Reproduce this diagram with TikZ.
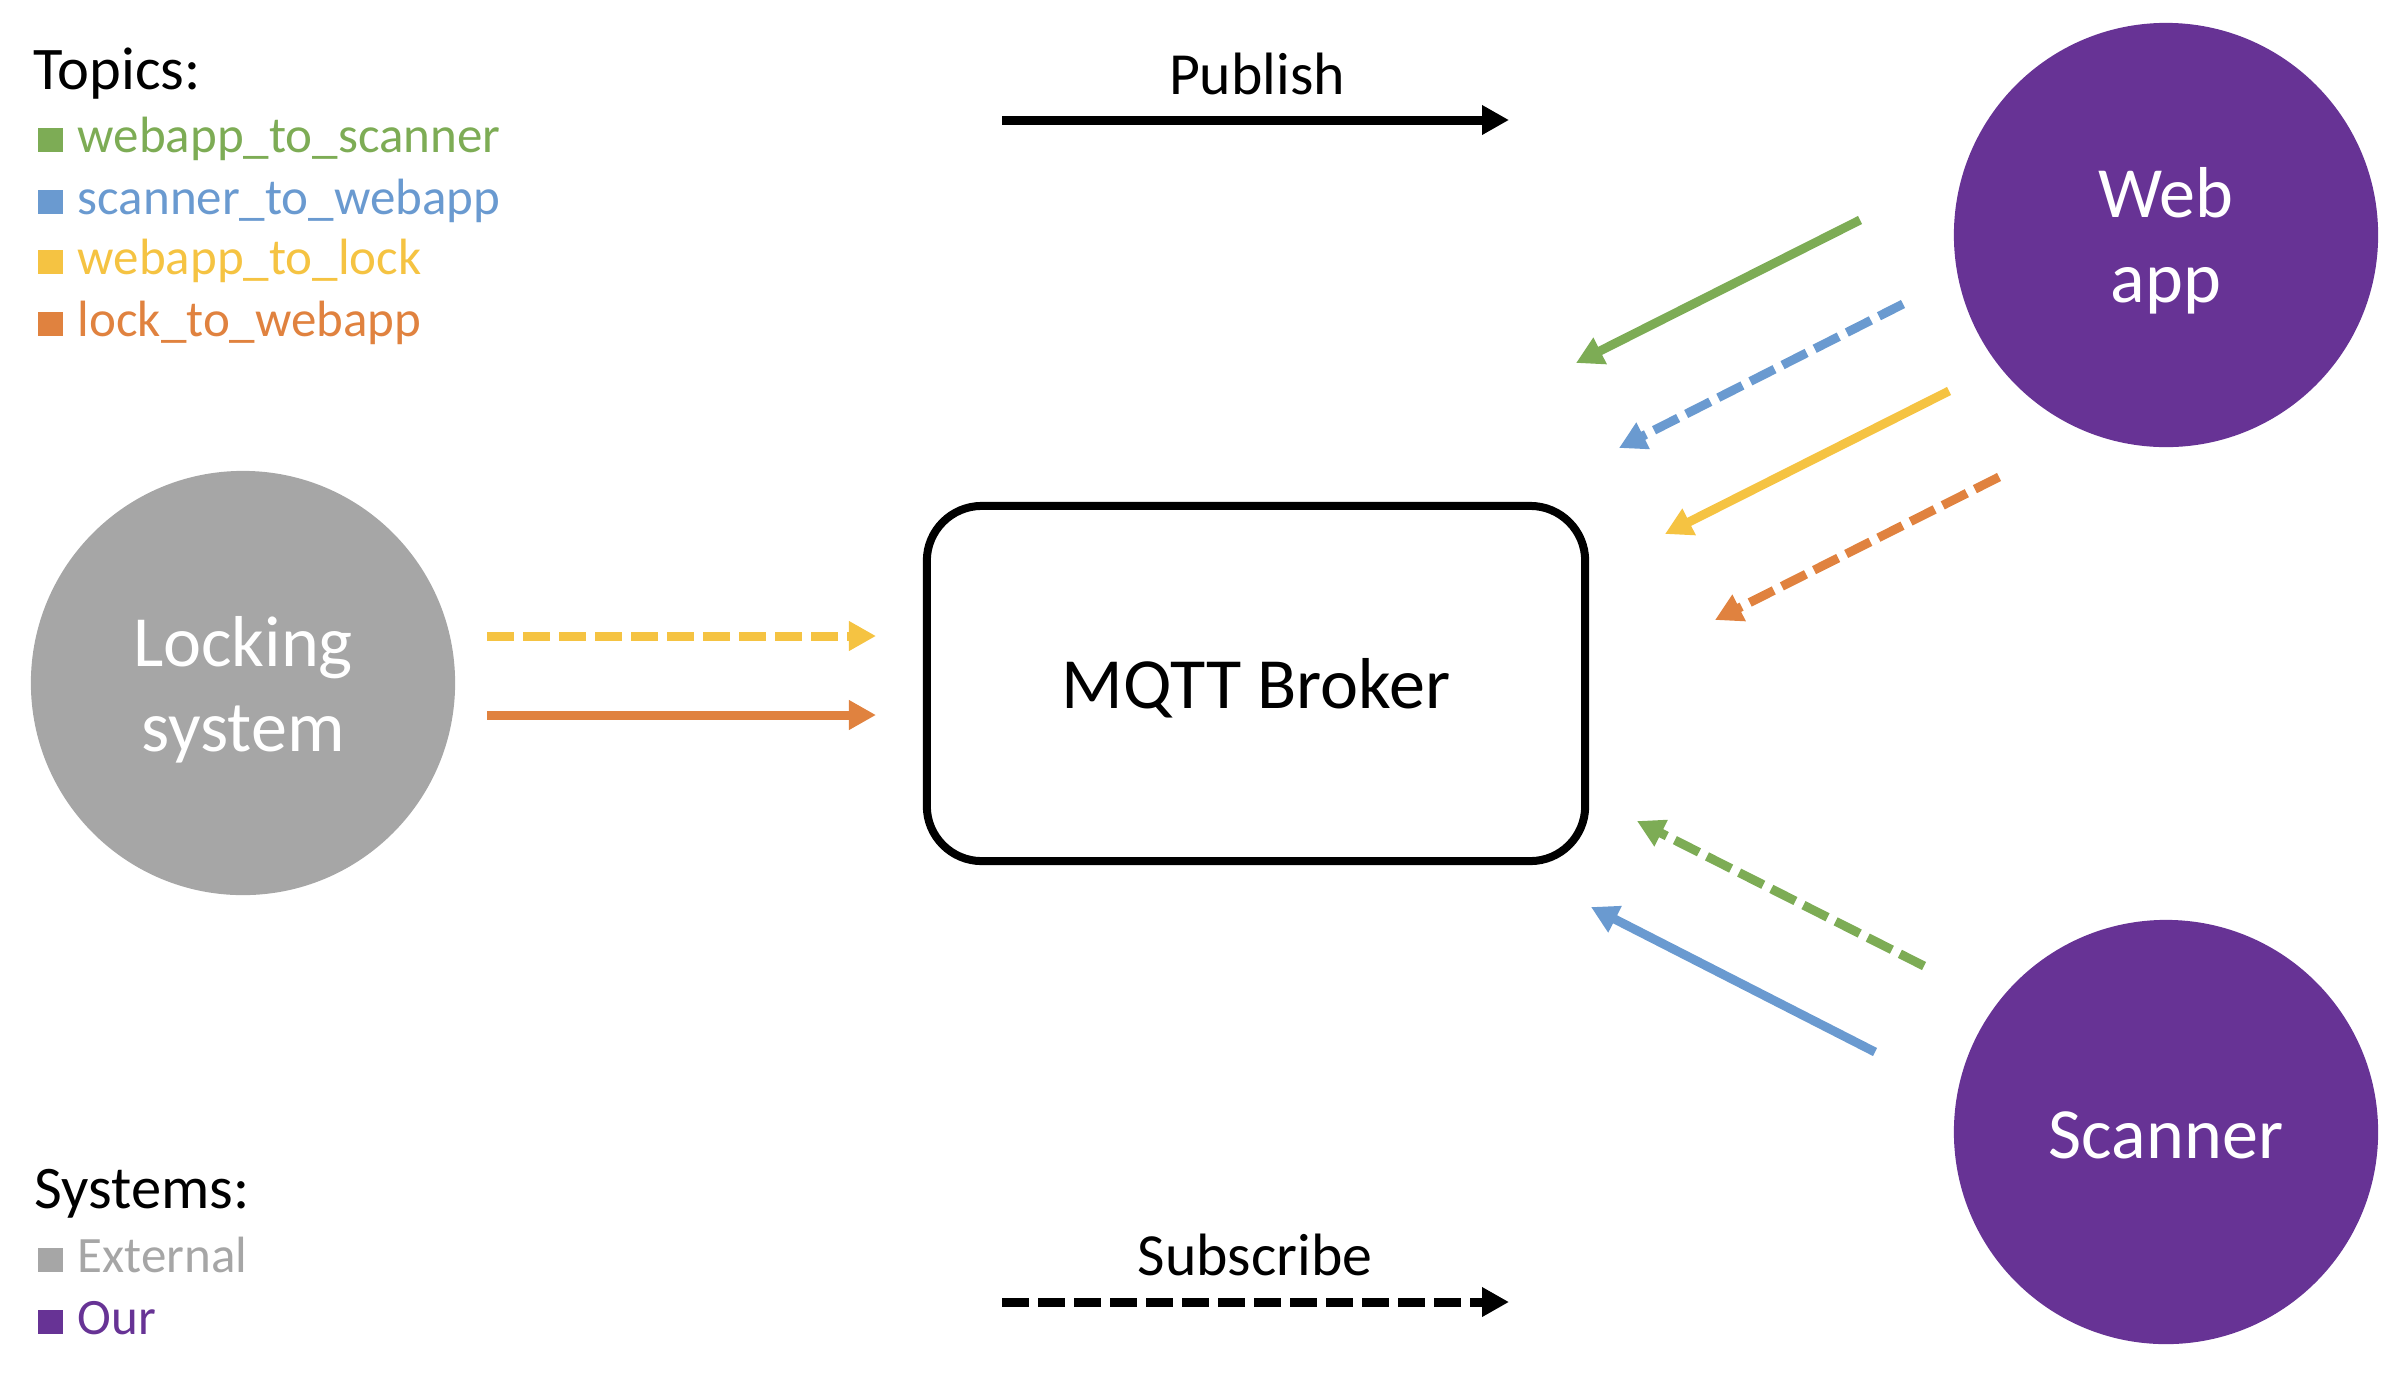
\documentclass[tikz,border=0pt]{standalone}
\usepackage{fontspec}
\setmainfont{Carlito}
\usetikzlibrary{arrows.meta}
\definecolor{cgreen}{HTML}{7DAC55}
\definecolor{cblue}{HTML}{6A9AD0}
\definecolor{cyellow}{HTML}{F5C342}
\definecolor{corange}{HTML}{E0823F}
\definecolor{cpurple}{HTML}{673395}
\definecolor{cgray}{HTML}{A6A6A6}
\tikzset{
  conn/.style={line width=0.09cm, -{Triangle[length=0.27cm,width=0.28cm]}},
  dashedconn/.style={conn, dash pattern=on 0.27cm off 0.09cm},
  systemcircle/.style={circle, minimum size=4.24cm, inner sep=0pt},
  bigtext/.style={inner sep=0pt, align=center, font=\fontsize{20.5}{24.3}\selectfont},
  legendtitle/.style={anchor=base west, inner sep=0pt, font=\fontsize{17.2}{19}\selectfont},
  legenditem/.style={anchor=base west, inner sep=0pt, font=\fontsize{14.5}{17}\selectfont},
  keylabel/.style={anchor=base, inner sep=0pt, font=\fontsize{17.0}{19}\selectfont},
}
\newcommand{\legsq}[1]{{\color{#1}\rule{0.25cm}{0.24cm}}\hspace{0.15cm}}
\begin{document}
\begin{tikzpicture}[x=0.01cm, y=-0.01cm]
\useasboundingbox (0,0) rectangle (2406,1372);

% legend
\node[legendtitle] (topics) at (33,89) {Topics:};
\node[legenditem, text=cgreen] (t1) at (37,152) {\legsq{cgreen}webapp\_to\_scanner};
\node[legenditem, text=cblue] (t2) at (37,214) {\legsq{cblue}scanner\_to\_webapp};
\node[legenditem, text=cyellow] (t3) at (37,274) {\legsq{cyellow}webapp\_to\_lock};
\node[legenditem, text=corange] (t4) at (37,336) {\legsq{corange}lock\_to\_webapp};

\node[legendtitle] (systems) at (34,1208) {Systems:};
\node[legenditem, text=cgray] (s1) at (37,1272) {\legsq{cgray}External};
\node[legenditem, text=cpurple] (s2) at (37,1334) {\legsq{cpurple}Our};

% key arrows
\node[keylabel] (publbl) at (1257,94) {Publish};
\coordinate (pubA) at (1002,120);
\coordinate (pubB) at (1509,120);
\draw[conn, black] (pubA) -- (pubB);

\node[keylabel] (sublbl) at (1255,1275) {Subscribe};
\coordinate (subA) at (1002,1302);
\coordinate (subB) at (1509,1302);
\draw[dashedconn, black] (subA) -- (subB);

% systems
\node[systemcircle, fill=cgray] (lock) at (243,683) {};
\node[bigtext, text=white] (locktxt) at (243,690) {Locking\\system};
\node[systemcircle, fill=cpurple] (web) at (2166,235) {};
\node[bigtext, text=white] (webtxt) at (2166,241) {Web\\app};
\node[systemcircle, fill=cpurple] (scan) at (2166,1132) {};
\node[bigtext, text=white] (scantxt) at (2166,1135) {Scanner};

\node[draw, line width=0.08cm, rounded corners=0.55cm, minimum width=6.58cm,
  minimum height=3.55cm] (broker) at (1256,683.5) {};
\node[bigtext] (brokertxt) at (1256,688) {MQTT Broker};

% locking system arrows
\coordinate (l1a) at (487,636); \coordinate (l1b) at (876,636);
\coordinate (l2a) at (487,715); \coordinate (l2b) at (876,715);
\draw[dashedconn, cyellow] (l1a) -- (l1b);
\draw[conn, corange] (l2a) -- (l2b);

% web app arrows
\coordinate (w1a) at (1860,220); \coordinate (w1b) at (1576,363);
\coordinate (w2a) at (1903,304); \coordinate (w2b) at (1619,448);
\coordinate (w3a) at (1949,391); \coordinate (w3b) at (1665,534);
\coordinate (w4a) at (1999,477); \coordinate (w4b) at (1715,620);
\draw[conn, cgreen] (w1a) -- (w1b);
\draw[dashedconn, cblue] (w2a) -- (w2b);
\draw[conn, cyellow] (w3a) -- (w3b);
\draw[dashedconn, corange] (w4a) -- (w4b);

% scanner arrows
\coordinate (c1a) at (1924,966); \coordinate (c1b) at (1637,821);
\coordinate (c2a) at (1875,1052); \coordinate (c2b) at (1591,907);
\draw[dashedconn, cgreen] (c1a) -- (c1b);
\draw[conn, cblue] (c2a) -- (c2b);
\end{tikzpicture}
\end{document}
